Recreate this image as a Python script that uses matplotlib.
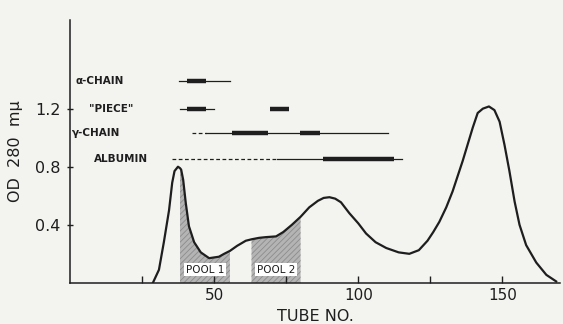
import numpy as np
import matplotlib.pyplot as plt

# elution profile
tube = np.array([28.8, 30.9, 32.6, 34.4, 35.5, 36.3, 37.5, 38.2, 38.6, 39.3, 40.2, 41.3, 43.1,
                 45.4, 48.3, 51.7, 53.5, 55.5, 58, 61, 63, 65.6, 68, 71.5, 74, 77, 80, 83,
                 86, 88, 90, 92, 94, 96.9, 100, 102.7, 106, 109.7, 114, 117.7, 121, 124,
                 126, 128.1, 130.5, 132.7, 136.2, 139.7, 141.4, 143.2, 145.3, 147.2, 149,
                 150.7, 152.4, 154.2, 155.9, 158.2, 161.7, 165.2, 168.6])
od = np.array([0.0, 0.09, 0.28, 0.50, 0.69, 0.77, 0.80, 0.79, 0.78, 0.71, 0.55, 0.39, 0.28,
               0.21, 0.17, 0.18, 0.20, 0.22, 0.255, 0.29, 0.30, 0.31, 0.315, 0.32, 0.35,
               0.40, 0.455, 0.52, 0.565, 0.585, 0.59, 0.58, 0.555, 0.48, 0.41, 0.34, 0.28,
               0.24, 0.21, 0.20, 0.225, 0.29, 0.35, 0.42, 0.52, 0.63, 0.84, 1.07, 1.17,
               1.20, 1.215, 1.19, 1.11, 0.95, 0.77, 0.56, 0.40, 0.26, 0.14, 0.055, 0.01])

pools = [("POOL 1", 38.2, 55.5), ("POOL 2", 63.0, 80.0)]

# (label, row y, label x, dashed part, thin part, thick parts)
rows = [
    ("\u03b1-CHAIN", 1.39, 2.0, None, (37.8, 55.6), [(40.6, 47.2)]),
    ('"PIECE"', 1.20, 6.5, None, (38.2, 50.0), [(40.6, 47.2), (69.4, 76.0)]),
    ("\u03b3-CHAIN", 1.03, 0.8, (42.3, 47.2), (47.2, 110.4), [(56.2, 68.8), (79.9, 86.8)]),
    ("ALBUMIN", 0.85, 8.5, (35.4, 72.0), (72.0, 115.3), [(87.8, 112.5)]),
]

bg = "#f3f3f0"
ink = "#1e1e1e"
plt.rcParams['font.family'] = ['DejaVu Sans']
plt.rcParams['hatch.linewidth'] = 0.6

fig = plt.figure(figsize=(5.63, 3.24), dpi=100, facecolor=bg)
ax = fig.add_axes([0.124, 0.127, 0.871, 0.811])
ax.set_facecolor(bg)

for name, a, b in pools:
    m = (tube >= a) & (tube <= b)
    ax.fill_between(tube[m], 0, od[m], facecolor="#b4b4b4", hatch="//////",
                    edgecolor="#8c8c8c", linewidth=0)
    ax.text((a + b) / 2, 0.09, name, ha="center", va="center", fontsize=7.5,
            color=ink, bbox=dict(facecolor="white", edgecolor="none", pad=1.2))

ax.plot(tube, od, color=ink, lw=1.6, solid_joinstyle="round")

for label, y, lx, dash, thin, thick in rows:
    if dash:
        ax.plot(dash, [y, y], color=ink, lw=0.9, ls=(0, (3, 2)))
    ax.plot(thin, [y, y], color=ink, lw=0.9)
    for a, b in thick:
        ax.plot([a, b], [y, y], color=ink, lw=3.2, solid_capstyle="butt")
    ax.text(lx, y, label, ha="left", va="center", fontsize=7.5, color=ink,
            fontweight="bold")

ax.set_xlim(0, 170)
ax.set_ylim(0, 1.81)
ax.set_xticks([50, 100, 150])
ax.set_xticks([25, 75, 125], minor=True)
ax.set_yticks([0.4, 0.8, 1.2])
ax.set_yticklabels(["0.4", "0.8", "1.2"])
ax.tick_params(axis="x", which="both", direction="in", length=5, width=1,
               labelsize=11, colors=ink, pad=4)
ax.tick_params(axis="y", direction="inout", length=5, width=1, labelsize=11.5,
               colors=ink, pad=4)
for s in ("top", "right"):
    ax.spines[s].set_visible(False)
for s in ("left", "bottom"):
    ax.spines[s].set_color(ink)
    ax.spines[s].set_linewidth(1.1)

ax.set_xlabel("TUBE NO.", fontsize=11.5, color=ink, labelpad=4)
ax.set_ylabel("OD  280  m\u03bc", fontsize=11.5, color=ink, labelpad=9)

fig.savefig("out.png", dpi=100, facecolor=bg)
